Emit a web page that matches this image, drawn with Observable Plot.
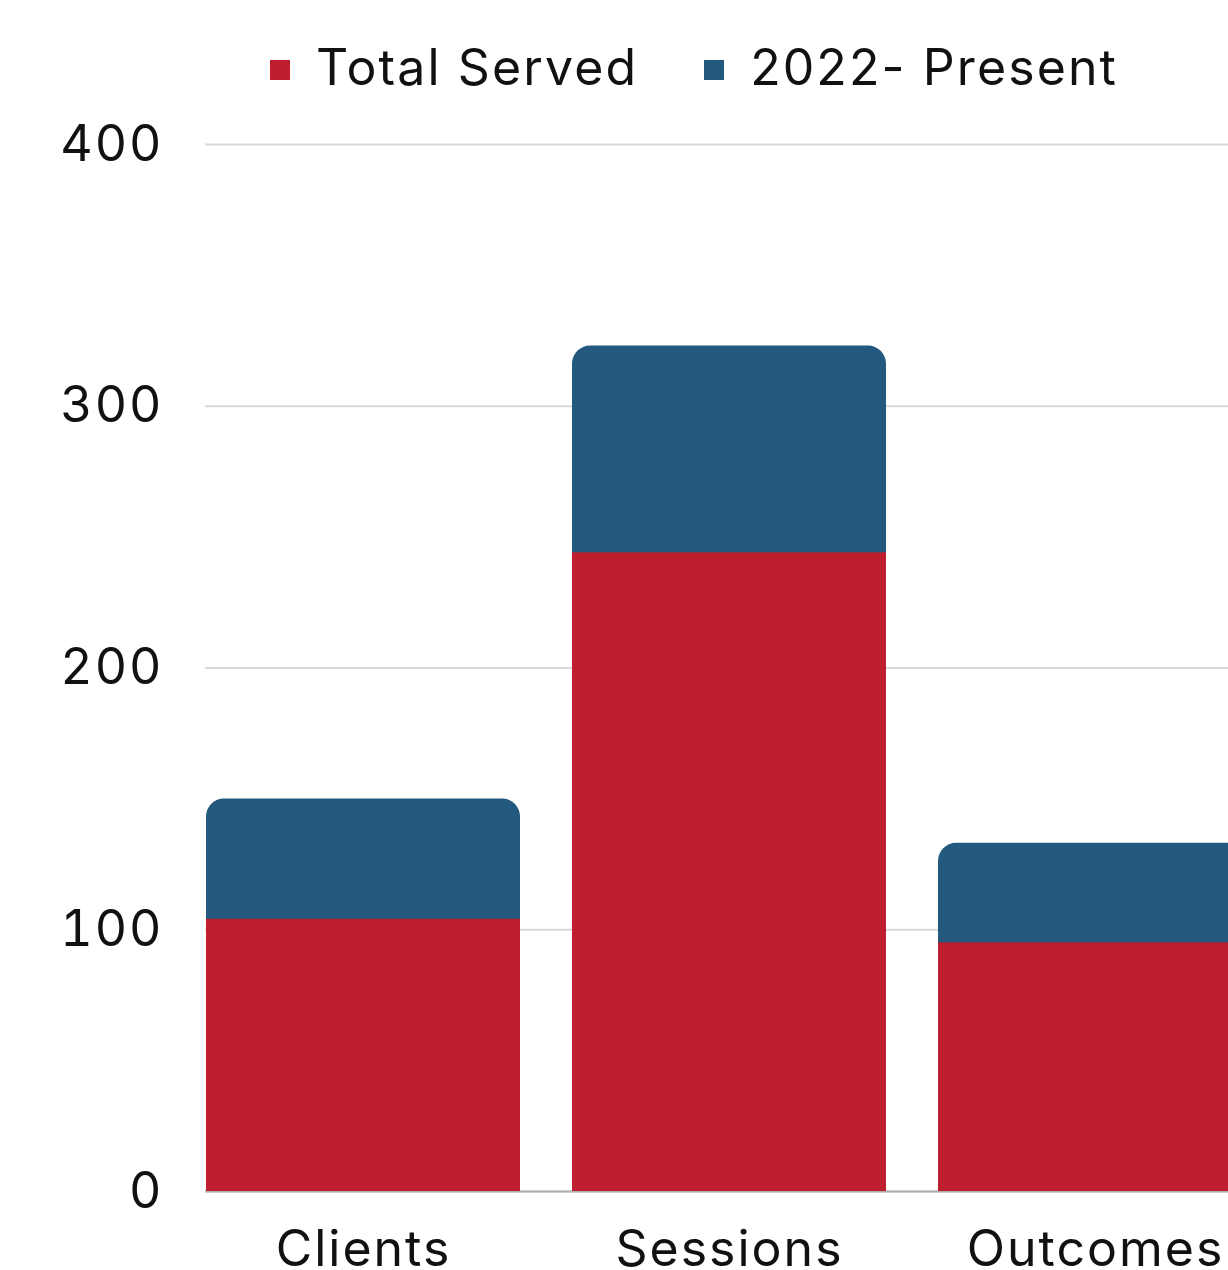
<!DOCTYPE html>
<html><head><meta charset="utf-8">
<script src="https://cdn.jsdelivr.net/npm/d3@7"></script>
<script src="https://cdn.jsdelivr.net/npm/@observablehq/plot@0.6"></script>
<style>
html,body{margin:0;background:#fff;overflow:hidden;}
body{font-family:Inter,"Noto Sans",sans-serif;color:#111;}
#legend{height:100px;display:flex;align-items:center;padding-left:270px;font-size:50px;letter-spacing:2.1px;box-sizing:border-box;padding-top:34px;}
.item{display:flex;align-items:center;margin-right:66px;}
.sw{display:inline-block;width:20px;height:20px;margin-right:26px;margin-top:6px;}
#chart svg{display:block;max-width:none;}
</style></head><body>
<div id="legend"></div><div id="chart"></div>
<script>
const categories = ["Clients", "Sessions", "Outcomes"];
const totalServed = [104, 244, 95];
const present = [46, 79, 38];
const seriesNames = ["Total Served", "2022- Present"];
const seriesColors = ["#BE1E2D", "#23597E"];
const yTicks = [0, 100, 200, 300, 400];

const rows = categories.map((c, i) => ({category: c, total: totalServed[i], present: present[i]}));

const legend = document.getElementById("legend");
seriesNames.forEach((n, i) => {
  const it = document.createElement("div");
  it.className = "item";
  const sw = document.createElement("span");
  sw.className = "sw";
  sw.style.background = seriesColors[i];
  it.appendChild(sw);
  const t = document.createElement("span");
  t.textContent = n;
  it.appendChild(t);
  legend.appendChild(it);
});

const chart = Plot.plot({
  width: 1228,
  height: 1170,
  marginTop: 44,
  marginBottom: 79,
  marginLeft: 205,
  marginRight: 0,
  x: {domain: categories, range: [205, 1253], paddingInner: 0.142, paddingOuter: 0, label: null},
  y: {domain: [0, 400], label: null},
  style: {fontFamily: "Inter, 'Noto Sans', sans-serif", fontSize: "50px", color: "#111", background: "#fff", letterSpacing: "2px"},
  marks: [
    Plot.gridY(yTicks, {stroke: "#d9d9d9", strokeOpacity: 1, strokeWidth: 2}),
    Plot.ruleY([0], {stroke: "#b0b0b0", strokeWidth: 2}),
    Plot.barY(rows, {x: "category", y1: 0, y2: d => d.total + d.present, fill: seriesColors[1], rx: 18}),
    Plot.barY(rows, {x: "category", y1: 0, y2: "total", fill: seriesColors[0]}),
    Plot.axisX({tickSize: 0, tickPadding: 39, fontSize: 50}),
    Plot.axisY({ticks: yTicks, tickSize: 0, tickPadding: 42, fontSize: 50, letterSpacing: "3px", tickFormat: d => String(d)})
  ]
});
document.getElementById("chart").appendChild(chart);
</script>
</body></html>
